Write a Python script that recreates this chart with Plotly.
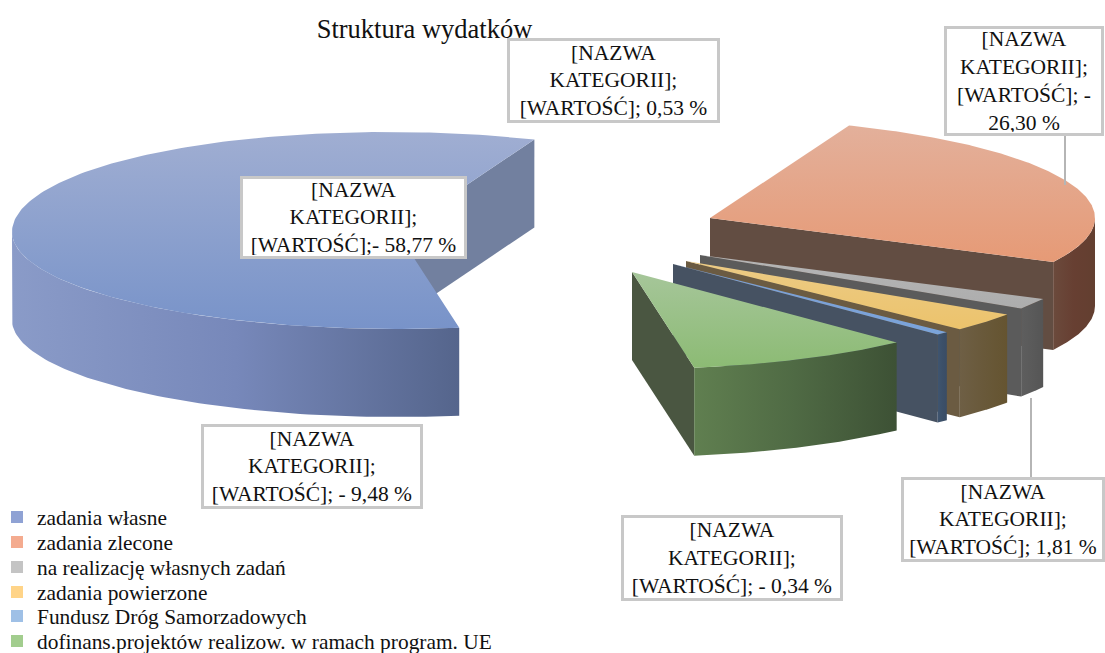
import numpy as np
import plotly.graph_objects as go

# ---- data ----
categories = ["zadania własne", "zadania zlecone", "na realizację własnych zadań",
              "zadania powierzone", "Fundusz Dróg Samorzadowych",
              "dofinans.projektów realizow. w ramach program. UE"]
values = [58.77, 26.30, 1.81, 3.11, 0.53, 9.48]

label_texts = [
    "[NAZWA<br>KATEGORII];<br>[WARTOŚĆ]; 0,53 %",
    "[NAZWA<br>KATEGORII];<br>[WARTOŚĆ]; -<br>26,30 %",
    "[NAZWA<br>KATEGORII];<br>[WARTOŚĆ];- 58,77 %",
    "[NAZWA<br>KATEGORII];<br>[WARTOŚĆ]; - 9,48 %",
    "[NAZWA<br>KATEGORII];<br>[WARTOŚĆ]; - 0,34 %",
    "[NAZWA<br>KATEGORII];<br>[WARTOŚĆ]; 1,81 %",
]

# ---- style / layout ----
W, H = 1105, 653
START_DEG = -80.7       # first slice edge, maths angle, slices run clockwise
RX, RY_FRONT, RY_BACK, DEPTH = 385, 97, 100, 88
slice_centres = [(397, 232), (710, 218), (700, 255), (686, 261), (673, 264), (632, 272)]
back_skew = [-10, -8, 0, 0, 0, 0]   # slight perspective pull of the far rim
legend_colors = ["#8fa2d4", "#f4ab8f", "#c4c4c4", "#ffd488", "#9fc0e6", "#a2cd8e"]
legend_rows = [517, 542, 567, 592, 616, 641]
top_grad = [("#a0aed2", "#7893c9"), ("#e3b09b", "#e69a76"), ("#b5b5b5", "#adadad"),
            ("#eccb85", "#ecc36c"), ("#7c9fd4", "#7ba4da"), ("#a6c69a", "#8cbb74")]
wall_grad = [("#8a9bc8", "#7788ba", "#55658c"), ("#6b4a3c", "#673f32", "#633f30"),
             ("#5e5e5e", "#5a5a5a", "#555555"), ("#6e5f45", "#69593a", "#655430"),
             ("#3f5570", "#3c5069", "#3a4c64"), ("#607f50", "#4f6a44", "#3d5135")]
side_color = ["#72809f", "#624d42", "#5b5b5b", "#6b5b42", "#465262", "#4a5641"]
label_boxes = [(508, 39, 719, 122), (945, 27, 1103, 135), (241, 177, 466, 258),
               (202, 425, 422, 508), (622, 516, 842, 600), (902, 478, 1104, 561)]
leaders = [(1065, 135, 1065, 185), (1031, 398, 1031, 478)]
SERIF = "Liberation Serif"


def arc(i, a0, a1, dy=0, n=80):
    cx, cy = slice_centres[i]
    t = np.radians(np.linspace(a0, a1, n))
    s = np.sin(t)
    ry = np.where(s > 0, RY_BACK, RY_FRONT)
    skew = back_skew[i] * np.where(s > 0, s ** 2, 0)
    return cx + RX * np.cos(t) + skew, cy - ry * s + dy


def poly(fig, xs, ys, stops=None, color=None, gtype="vertical"):
    if color:
        kw = {"fillcolor": color}
    else:
        pos = np.linspace(0, 1, len(stops))
        kw = {"fillgradient": dict(type=gtype, colorscale=[[float(p), c] for p, c in zip(pos, stops)])}
    fig.add_trace(go.Scatter(x=xs, y=ys, mode="lines", fill="toself", line=dict(width=0),
                             showlegend=False, hoverinfo="skip", **kw))


fig = go.Figure()

# legend entries: one small legend per row so the row spacing follows the reference
legends = {}
for i, (name, col, row) in enumerate(zip(categories, legend_colors, legend_rows)):
    key = "legend" if i == 0 else f"legend{i + 1}"
    fig.add_trace(go.Scatter(x=[None], y=[None], mode="markers", name=name, legend=key,
                             marker=dict(symbol="square", size=12, color=col)))
    legends[key] = dict(x=-3 / W, xanchor="left", y=1 - row / H, yanchor="middle",
                        bgcolor="rgba(0,0,0,0)", itemwidth=30,
                        font=dict(family=SERIF, size=21.4, color="#111111"))

total = sum(values)
angle = START_DEG
for i, v in enumerate(values):
    a0 = angle
    a1 = angle - v / total * 360
    angle = a1
    cx, cy = slice_centres[i]

    # flat wall along the closing edge of the slice
    ex, ey = arc(i, a1, a1, n=1)
    poly(fig, [cx, ex[0], ex[0], cx, cx], [cy, ey[0], ey[0] + DEPTH, cy + DEPTH, cy],
         color=side_color[i])

    # curved outer wall: only its front half faces the viewer
    w0 = ((a0 + 180) % 360) - 180
    w1 = w0 - (a0 - a1)
    if w0 > 0:
        w0 = 0
    w1 = max(w1, -180)
    if w0 > w1:
        ax, ay = arc(i, w0, w1)
        bx, by = arc(i, w1, w0, dy=DEPTH)
        poly(fig, np.r_[ax, bx], np.r_[ay, by], stops=wall_grad[i], gtype="horizontal")

    # top face (gradient runs in axis direction, and the y axis is reversed)
    ax, ay = arc(i, a0, a1, n=200)
    poly(fig, np.r_[cx, ax, cx], np.r_[cy, ay, cy], stops=top_grad[i][::-1])

annotations = []
for txt, (x0, y0, x1, y1) in zip(label_texts, label_boxes):
    annotations.append(dict(
        x=(x0 + x1) / 2, y=(y0 + y1) / 2, xref="x", yref="y", text=txt, showarrow=False,
        xanchor="center", yanchor="middle", align="center", valign="middle",
        width=x1 - x0 - 6, height=y1 - y0 - 6, borderpad=1,
        bgcolor="white", bordercolor="#c8c8c8", borderwidth=3,
        font=dict(family=SERIF, size=21.5, color="#111111")))

shapes = [dict(type="line", x0=a, y0=b, x1=c, y1=d, xref="x", yref="y",
               line=dict(color="#b5b5b5", width=2)) for a, b, c, d in leaders]

fig.update_layout(
    width=W, height=H, autosize=False,
    margin=dict(l=0, r=0, t=0, b=0, autoexpand=False),
    paper_bgcolor="white", plot_bgcolor="white",
    xaxis=dict(range=[0, W], visible=False, fixedrange=True),
    yaxis=dict(range=[H, 0], visible=False, fixedrange=True),
    title=dict(text="Struktura wydatków", x=424.5 / W, xanchor="center",
               y=1 - 29 / H, yanchor="middle", font=dict(family=SERIF, size=26.5, color="#111111")),
    annotations=annotations, shapes=shapes,
    **legends,
)

fig.write_html("out.html", config={"displayModeBar": False},
               post_script="document.body.style.margin='0';")
